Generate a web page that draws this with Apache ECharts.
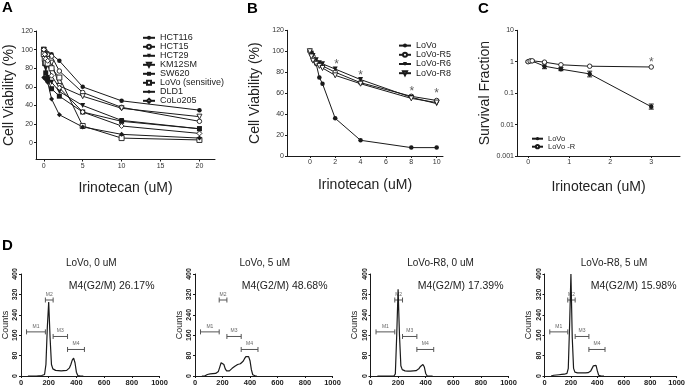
<!DOCTYPE html>
<html>
<head>
<meta charset="utf-8">
<script src="https://cdn.jsdelivr.net/npm/echarts@6/dist/echarts.min.js"></script>
<style>
  html, body { margin: 0; padding: 0; background: #fff; }
  #main { width: 688px; height: 387px; }
</style>
</head>
<body>
<div id="main"></div>
<script>
// ---- A: cell lines ----
var doseA = [0, 0.125, 0.25, 0.5, 1, 2, 5, 10, 20];
var namesA = ['HCT116', 'HCT15', 'HCT29', 'KM12SM', 'SW620', 'LoVo (sensitive)', 'DLD1', 'CoLo205'];
var hct116 = [100, 99, 97, 96, 95, 88, 60, 45, 35];
var hct15 = [100, 98, 96, 95, 93, 77, 54, 38, 23];
var hct29 = [97, 90, 80, 70, 65, 55, 40, 24, 15];
var km12sm = [100, 97, 94, 90, 86, 61, 50, 37, 28];
var sw620 = [100, 85, 75, 68, 58, 50, 33, 23, 15];
var lovoSens = [95, 90, 86, 85, 80, 70, 18, 5, 3];
var dld1 = [70, 70, 68, 65, 47, 30, 17, 9, 5];
var colo205 = [100, 95, 90, 88, 72, 59, 33, 18, 10];
var valuesA = [hct116, hct15, hct29, km12sm, sw620, lovoSens, dld1, colo205];
var symbolsA = ['circle', 'circle', 'triangle', 'triangle', 'rect', 'rect', 'diamond', 'diamond'];
var openA = [false, true, false, true, false, true, false, true];
var ticksA_x = [0, 5, 10, 15, 20];
var ticksA_y = [0, 20, 40, 60, 80, 100, 120];

// ---- B: resistant lines ----
var doseB = [0, 0.125, 0.25, 0.5, 0.75, 1, 2, 4, 8, 10];
var namesB = ['LoVo', 'LoVo-R5', 'LoVo-R6', 'LoVo-R8'];
var lovoB = [100, 97, 92, 88, 75, 69, 36, 15, 8, 8];
var lovoR5 = [100, 98, 95, 90, 88, 86, 80, 70, 57, 53];
var lovoR6 = [100, 98, 96, 92, 89, 88, 83, 73, 56, 50];
var lovoR8 = [100, 95, 91, 88, 86, 84, 77, 69, 55, 51];
var valuesB = [lovoB, lovoR5, lovoR6, lovoR8];
var symbolsB = ['circle', 'circle', 'triangle', 'triangle'];
var openB = [false, true, false, true];
var starB_x = [2.1, 4, 8.05, 10];
var starB_y = [90, 80, 64, 62];
var ticksB_x = [0, 2, 4, 6, 8, 10];
var ticksB_y = [0, 20, 40, 60, 80, 100, 120];

// ---- C: survival fraction ----
var doseC = [0, 0.05, 0.1, 0.4, 0.8, 1.5, 3];
var namesC = ['LoVo', 'LoVo -R'];
var lovoC = [1.0, 1.08, 1.05, 0.72, 0.58, 0.41, 0.037];
var lovoRC = [1.0, 1.05, 1.07, 0.97, 0.8, 0.72, 0.68];
var lovoC_low = [0.95, 1.0, 0.98, 0.6, 0.52, 0.33, 0.031];
var lovoC_high = [1.05, 1.15, 1.12, 0.86, 0.65, 0.5, 0.045];
var starC_x = [3];
var starC_y = [1.15];
var ticksC_x = [0, 1, 2, 3];

// ---- D: cell cycle histograms ----
var channels = [50, 60, 70, 80, 90, 100, 110, 120, 130, 140, 150, 160, 170, 180, 190, 200, 210, 220, 230, 240,
  250, 260, 270, 280, 290, 300, 310, 320, 330, 340, 350, 360, 370, 380, 390, 400, 410, 420, 430, 440, 450];
var countsLoVo0 = [0, 0, 0, 0, 0, 0, 0, 0, 1, 1, 2, 3, 6, 45, 190, 290, 150, 45, 28, 24,
  22, 22, 21, 20, 20, 21, 21, 21, 22, 25, 32, 45, 62, 70, 52, 15, 2, 0, 0, 0, 0];
var countsLoVo5 = [0, 0, 0, 3, 6, 8, 8, 9, 9, 10, 10, 12, 18, 35, 52, 58, 45, 28, 20, 18,
  20, 25, 30, 34, 38, 42, 45, 46, 48, 50, 58, 68, 76, 80, 76, 60, 25, 5, 0, 0, 0];
var countsR8_0 = [0, 0, 0, 0, 0, 0, 0, 0, 0, 0, 0, 0, 0, 8, 160, 340, 160, 40, 25, 22,
  20, 20, 19, 19, 19, 20, 20, 20, 21, 23, 28, 36, 43, 45, 35, 10, 1, 0, 0, 0, 0];
var countsR8_5 = [0, 2, 3, 3, 4, 4, 5, 5, 6, 6, 7, 8, 10, 30, 200, 400, 150, 30, 15, 13,
  12, 12, 12, 12, 12, 12, 12, 13, 13, 15, 20, 30, 40, 45, 42, 20, 3, 0, 0, 0, 0];
var histCounts = [countsLoVo0, countsLoVo5, countsR8_0, countsR8_5];
var histTitles = ['LoVo, 0 uM', 'LoVo, 5 uM', 'LoVo-R8, 0 uM', 'LoVo-R8, 5 uM'];
var histG2M = ['M4(G2/M) 26.17%', 'M4(G2/M) 48.68%', 'M4(G2/M) 17.39%', 'M4(G2/M) 15.98%'];
var gateNames = ['M1', 'M2', 'M3', 'M4'];
var gateStart = [40, 176, 232, 336];
var gateEnd = [176, 232, 336, 458];
var gateLevel = [173, 298, 155, 104];

var FONT = 'Liberation Sans, Arial, sans-serif';
var INK = '#1a1a1a';

function zip(xs, ys) {
  return xs.map(function (x, i) { return [x, ys[i]]; });
}

// open markers: white fill + thin black border, filled ones: solid black
function markerStyle(open) {
  return open ? { color: '#fff', borderColor: INK, borderWidth: 0.9 } : { color: INK, borderWidth: 0 };
}

function renderErr(params, api) {
  var top = api.coord([api.value(0), api.value(2)]);
  var bot = api.coord([api.value(0), api.value(1)]);
  var st = { stroke: INK, lineWidth: 1 };
  return {
    type: 'group', children: [
      { type: 'line', shape: { x1: top[0], y1: top[1], x2: bot[0], y2: bot[1] }, style: st },
      { type: 'line', shape: { x1: top[0] - 2.5, y1: top[1], x2: top[0] + 2.5, y2: top[1] }, style: st },
      { type: 'line', shape: { x1: bot[0] - 2.5, y1: bot[1], x2: bot[0] + 2.5, y2: bot[1] }, style: st }
    ]
  };
}

function renderGate(params, api) {
  var a = api.coord([api.value(0), api.value(2)]);
  var b = api.coord([api.value(1), api.value(2)]);
  var st = { stroke: '#555', lineWidth: 1 };
  return {
    type: 'group', children: [
      { type: 'line', shape: { x1: a[0], y1: a[1], x2: b[0], y2: b[1] }, style: st },
      { type: 'line', shape: { x1: a[0], y1: a[1] - 2.5, x2: a[0], y2: a[1] + 2.5 }, style: st },
      { type: 'line', shape: { x1: b[0], y1: b[1] - 2.5, x2: b[0], y2: b[1] + 2.5 }, style: st },
      { type: 'text', style: { text: gateNames[params.dataIndex], x: (a[0] + b[0]) / 2, y: a[1] - 3,
        align: 'center', verticalAlign: 'bottom', fontSize: 5, fill: '#666', fontFamily: FONT } }
    ]
  };
}

// plain value axis in the GraphPad look
function valAxis(grid, min, max, ticks, extra) {
  var ax = {
    gridIndex: grid, type: 'value', min: min, max: max,
    axisLine: { show: true, onZero: false, lineStyle: { color: INK, width: 1 } },
    axisTick: { show: true, length: 2, customValues: ticks, lineStyle: { color: INK } },
    axisLabel: { customValues: ticks, fontSize: 7, color: '#333', margin: 3 },
    splitLine: { show: false }
  };
  return Object.assign(ax, extra || {});
}

var grids = [
  { left: 36, top: 31, width: 179, height: 128.5 },
  { left: 287, top: 30.3, width: 156, height: 125.7 },
  { left: 517, top: 30.3, width: 163, height: 125.7 },
  { left: 21, top: 274, width: 138.5, height: 102 },
  { left: 195, top: 274, width: 137.5, height: 102 },
  { left: 370.5, top: 274, width: 138, height: 102 },
  { left: 544.5, top: 274, width: 137, height: 102 }
];

var bigName = { fontSize: 14, color: '#222' };
var xAxes = [
  valAxis(0, -1, 22, ticksA_x, { name: 'Irinotecan (uM)', nameLocation: 'middle', nameGap: 22, nameTextStyle: bigName }),
  valAxis(1, -1.8, 10.5, ticksB_x, { name: 'Irinotecan (uM)', nameLocation: 'middle', nameGap: 22, nameTextStyle: bigName }),
  valAxis(2, -0.27, 3.7, ticksC_x, { name: 'Irinotecan (uM)', nameLocation: 'middle', nameGap: 24, nameTextStyle: bigName })
];
var yAxes = [
  valAxis(0, -18, 120, ticksA_y, { name: 'Cell Viability (%)', nameLocation: 'middle', nameGap: 20, nameTextStyle: bigName }),
  valAxis(1, 0, 120, ticksB_y, { name: 'Cell Viability (%)', nameLocation: 'middle', nameGap: 25, nameTextStyle: bigName }),
  {
    gridIndex: 2, type: 'log', logBase: 10, min: 0.001, max: 10,
    name: 'Survival Fraction', nameLocation: 'middle', nameGap: 23, nameTextStyle: bigName,
    axisLine: { show: true, onZero: false, lineStyle: { color: INK } },
    axisTick: { show: true, length: 2, lineStyle: { color: INK } },
    axisLabel: { fontSize: 7, color: '#333', margin: 3, formatter: function (v) { return String(+v.toPrecision(3)); } },
    splitLine: { show: false }
  }
];

for (var k = 0; k < 4; k++) {
  xAxes.push({
    gridIndex: 3 + k, type: 'value', min: 0, max: 1000, interval: 200,
    axisLine: { show: true, onZero: false, lineStyle: { color: INK } },
    axisTick: { show: true, length: 2, lineStyle: { color: INK } },
    axisLabel: { fontSize: 7.5, fontWeight: 'bold', color: '#222', margin: 3, formatter: function (v) { return String(v); } },
    splitLine: { show: false }
  });
  yAxes.push({
    gridIndex: 3 + k, type: 'value', min: 0, max: 400, interval: 80,
    name: 'Counts', nameLocation: 'middle', nameGap: 11, nameTextStyle: { fontSize: 9, color: '#222' },
    axisLine: { show: true, onZero: false, lineStyle: { color: INK } },
    axisTick: { show: true, length: 2, lineStyle: { color: INK } },
    axisLabel: { fontSize: 7, fontWeight: 'bold', color: '#222', margin: 2, rotate: 90 },
    splitLine: { show: false }
  });
}

var series = [];
namesA.forEach(function (n, i) {
  series.push({
    name: n, type: 'line', xAxisIndex: 0, yAxisIndex: 0, data: zip(doseA, valuesA[i]),
    symbol: symbolsA[i], symbolSize: symbolsA[i] === 'circle' ? 4.5 : 5,
    symbolRotate: symbolsA[i] === 'triangle' ? 180 : 0,
    itemStyle: markerStyle(openA[i]), lineStyle: { color: INK, width: 1 }
  });
});
namesB.forEach(function (n, i) {
  series.push({
    name: n, type: 'line', xAxisIndex: 1, yAxisIndex: 1, data: zip(doseB, valuesB[i]),
    symbol: symbolsB[i], symbolSize: symbolsB[i] === 'circle' ? 4.5 : 5,
    symbolRotate: symbolsB[i] === 'triangle' ? 180 : 0,
    itemStyle: markerStyle(openB[i]), lineStyle: { color: INK, width: 1 }
  });
});
var starStyle = {
  type: 'scatter', symbol: 'circle', symbolSize: 1, itemStyle: { color: 'rgba(0,0,0,0)' }, silent: true,
  label: { show: true, position: 'inside', formatter: '*', fontSize: 12, color: '#333', offset: [0, 3] }
};
series.push(Object.assign({ xAxisIndex: 1, yAxisIndex: 1, data: zip(starB_x, starB_y) }, starStyle));

series.push({
  type: 'custom', xAxisIndex: 2, yAxisIndex: 2, renderItem: renderErr,
  data: doseC.map(function (x, i) { return [x, lovoC_low[i], lovoC_high[i]]; }), z: 1
});
[lovoC, lovoRC].forEach(function (vals, i) {
  series.push({
    name: namesC[i], type: 'line', xAxisIndex: 2, yAxisIndex: 2, data: zip(doseC, vals),
    symbol: 'circle', symbolSize: 4.5,
    itemStyle: markerStyle(i === 1), lineStyle: { color: INK, width: 1 }, z: 3
  });
});
series.push(Object.assign({ xAxisIndex: 2, yAxisIndex: 2, data: zip(starC_x, starC_y) }, starStyle));

var graphics = [
  { type: 'text', left: 2, top: 0, style: { text: 'A', fontSize: 15, fontWeight: 'bold', fill: '#000', fontFamily: FONT } },
  { type: 'text', left: 247, top: 1, style: { text: 'B', fontSize: 15, fontWeight: 'bold', fill: '#000', fontFamily: FONT } },
  { type: 'text', left: 478, top: 1, style: { text: 'C', fontSize: 15, fontWeight: 'bold', fill: '#000', fontFamily: FONT } },
  { type: 'text', left: 2, top: 238, style: { text: 'D', fontSize: 15, fontWeight: 'bold', fill: '#000', fontFamily: FONT } }
];

histCounts.forEach(function (counts, i) {
  var g = grids[3 + i];
  series.push({
    type: 'line', xAxisIndex: 3 + i, yAxisIndex: 3 + i, data: zip(channels, counts),
    showSymbol: false, symbol: 'none', lineStyle: { color: INK, width: 1.2 }, silent: true
  });
  series.push({
    type: 'custom', xAxisIndex: 3 + i, yAxisIndex: 3 + i, renderItem: renderGate, silent: true,
    encode: { x: [0, 1], y: 2 },
    data: gateNames.map(function (n, j) { return [gateStart[j], gateEnd[j], gateLevel[j]]; })
  });
  graphics.push({
    type: 'text', x: g.left + g.width / 2 + 1, y: 263,
    style: { text: histTitles[i], fontSize: 10, fill: '#222', align: 'center', verticalAlign: 'middle', fontFamily: FONT }
  });
  graphics.push({
    type: 'text', x: g.left + g.width - 5, y: 286,
    style: { text: histG2M[i], fontSize: 10.5, fill: '#222', align: 'right', verticalAlign: 'middle', fontFamily: FONT }
  });
});

var chart = echarts.init(document.getElementById('main'), null, { renderer: 'canvas' });
chart.setOption({
  animation: false,
  backgroundColor: '#fff',
  textStyle: { fontFamily: FONT },
  grid: grids,
  xAxis: xAxes,
  yAxis: yAxes,
  legend: [
    {
      data: namesA, orient: 'vertical', left: 137, top: 28.3, itemWidth: 12, itemHeight: 5, itemGap: 0,
      selectedMode: false, textStyle: { fontSize: 9, lineHeight: 8, color: '#222' }
    },
    {
      data: namesB, orient: 'vertical', left: 393, top: 36, itemWidth: 12, itemHeight: 5, itemGap: 0,
      selectedMode: false, textStyle: { fontSize: 9, lineHeight: 9.2, color: '#222' }
    },
    {
      data: namesC, orient: 'vertical', left: 526, top: 129.7, itemWidth: 11, itemHeight: 4, itemGap: 0,
      selectedMode: false, textStyle: { fontSize: 7.5, lineHeight: 5.6, color: '#222' }
    }
  ],
  graphic: graphics,
  series: series
});
</script>
</body>
</html>
